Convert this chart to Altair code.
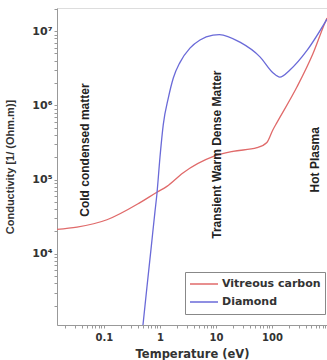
import altair as alt
import pandas as pd

# Vitreous carbon (red)
vc_T = [0.0145, 0.033, 0.113, 0.44, 0.88, 1.33, 2.57, 8.8, 20, 54, 81, 104, 123, 280, 540, 880, 960]
vc_C = [2.14e4, 2.29e4, 2.88e4, 4.9e4, 6.76e4, 8.1e4, 1.23e5, 2.04e5, 2.4e5, 2.69e5, 3.16e5, 4.7e5, 5.9e5, 1.78e6, 5.0e6, 1.29e7, 1.5e7]

# Diamond (blue)
di_T = [0.497, 0.586, 0.691, 0.814, 0.88, 1.0, 1.145, 1.41, 1.73, 2.28, 3.43, 5.18, 8.85, 11.5, 26.8, 61, 104, 138, 209, 422, 960]
di_C = [1.1e3, 3.6e3, 1.15e4, 3.7e4, 6.3e4, 2.0e5, 5.5e5, 1.26e6, 2.34e6, 3.8e6, 5.9e6, 7.6e6, 8.85e6, 9.0e6, 7.1e6, 4.5e6, 2.75e6, 2.4e6, 3.0e6, 5.5e6, 1.45e7]

series = ["Vitreous carbon", "Diamond"]
colors = ["#e06a6a", "#6a6ad8"]

ann_text = ["Cold condensed matter", "Transient Warm Dense Matter", "Hot Plasma"]
ann_T = [0.0458, 10.4, 586]
ann_C = [2.5e5, 2.17e5, 1.85e5]

x_domain = [0.0145, 960]
y_domain = [1100, 2.05e7]

rows = [{"T": t, "C": c, "Material": series[0], "o": i} for i, (t, c) in enumerate(zip(vc_T, vc_C))]
rows += [{"T": t, "C": c, "Material": series[1], "o": i} for i, (t, c) in enumerate(zip(di_T, di_C))]
df = pd.DataFrame(rows)
ann = pd.DataFrame({"label": ann_text, "T": ann_T, "C": ann_C})

x_ticks = []
for e in [0.01, 0.1, 1, 10, 100]:
    for m in range(1, 10):
        v = round(e * m, 6)
        if x_domain[0] <= v <= x_domain[1]:
            x_ticks.append(v)
y_ticks = []
for e in [1e3, 1e4, 1e5, 1e6, 1e7]:
    for m in range(1, 10):
        v = e * m
        if y_domain[0] <= v <= y_domain[1]:
            y_ticks.append(v)

x_scale = alt.Scale(type="log", domain=x_domain, nice=False)
y_scale = alt.Scale(type="log", domain=y_domain, nice=False)

x_axis = alt.Axis(
    title="Temperature (eV)", values=x_ticks,
    labelExpr="datum.value==0.1?'0.1':datum.value==1?'1':datum.value==10?'10':datum.value==100?'100':''",
    labelOverlap=False, labelFlush=False, grid=False,
    tickSize=3, tickColor="#999", domainColor="#999",
    labelFont="DejaVu Sans", labelFontSize=10, labelFontWeight="bold", labelColor="#333", labelPadding=4,
    titleFont="DejaVu Sans", titleFontSize=11.5, titleFontWeight="bold", titleColor="#333", titlePadding=6,
)
y_axis = alt.Axis(
    title="Conductivity [1/ (Ohm.m)]", values=y_ticks,
    labelExpr="datum.value==10000?'10⁴':datum.value==100000?'10⁵':datum.value==1000000?'10⁶':datum.value==10000000?'10⁷':''",
    labelOverlap=False, labelFlush=False, grid=False,
    tickSize=3, tickColor="#999", domainColor="#999",
    labelFont="DejaVu Sans", labelFontSize=11, labelFontWeight="bold", labelColor="#333", labelPadding=2,
    titleFont="Liberation Sans", titleFontSize=11, titleFontWeight="bold", titleColor="#333", titlePadding=16,
)

lines = alt.Chart(df).mark_line(strokeWidth=1.3, interpolate="monotone", clip=True).encode(
    x=alt.X("T:Q", scale=x_scale, axis=x_axis),
    y=alt.Y("C:Q", scale=y_scale, axis=y_axis),
    color=alt.Color("Material:N", scale=alt.Scale(domain=series, range=colors),
                    legend=alt.Legend(
                        title=None, orient="none", legendX=128, legendY=264,
                        symbolType="stroke", symbolSize=784, symbolStrokeWidth=1.5,
                        labelFont="DejaVu Sans", labelFontSize=11, labelFontWeight="bold", labelColor="#333",
                        strokeColor="#888", fillColor="white", padding=4, rowPadding=2, labelOffset=3,
                        clipHeight=16,
                    )),
    order="o:Q",
)

texts = alt.Chart(ann).mark_text(angle=270, align="center", baseline="middle",
                                 font="Liberation Sans", fontSize=12, fontWeight="bold", color="#222").encode(
    x=alt.X("T:Q", scale=x_scale),
    y=alt.Y("C:Q", scale=y_scale),
    text="label:N",
)

chart = alt.layer(lines, texts).properties(
    width=270, height=317,
    autosize=alt.AutoSizeParams(type="none"),
    padding={"left": 57, "top": 8, "right": 0, "bottom": 35},
).configure_view(stroke="#999", strokeWidth=1).configure(background="white")

chart.save("out.html", embed_options={"renderer": "svg", "actions": False})
